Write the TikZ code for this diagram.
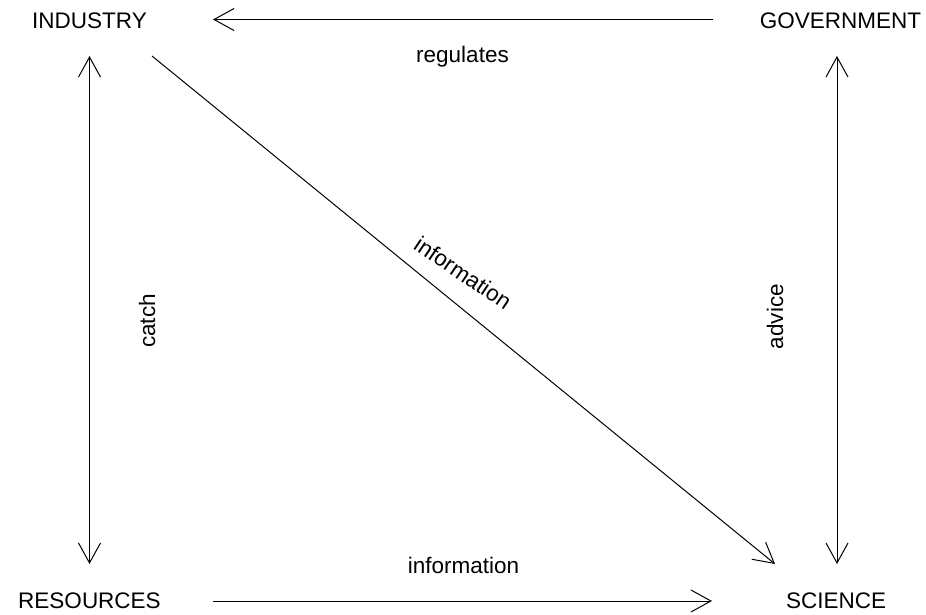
\documentclass[tikz,border=0pt]{standalone}
\usepackage{fontspec}
\setmainfont{Liberation Sans}
\usetikzlibrary{arrows.meta}
\begin{document}
\begin{tikzpicture}[x=1pt,y=-1pt,
  txt/.style={font=\fontsize{22.5}{27}\selectfont, inner sep=0pt, anchor=base},
  conn/.style={line width=1pt, -{Straight Barb[length=20pt,width=22pt]}},
  dconn/.style={line width=1pt, {Straight Barb[length=20pt,width=22pt]}-{Straight Barb[length=20pt,width=22pt]}}]
  \useasboundingbox (0,0) rectangle (926,615);
  % corner entities
  \node[txt] (ind) at (89.5,29) {INDUSTRY};
  \node[txt] (gov) at (840.5,29) {GOVERNMENT};
  \node[txt] (res) at (89.5,608) {RESOURCES};
  \node[txt] (sci) at (836,608) {SCIENCE};
  % connector end points
  \coordinate (govOut) at (713,19.5);
  \coordinate (indIn)  at (213,19.5);
  \coordinate (indBot) at (89.5,56);
  \coordinate (resTop) at (89.5,564);
  \coordinate (govBot) at (837,56);
  \coordinate (sciTop) at (837,564);
  \coordinate (indOut) at (152,56);
  \coordinate (sciIn)  at (775,564);
  \coordinate (resOut) at (213,601);
  \coordinate (sciL)   at (712,601);
  % connectors
  \draw[conn] (govOut) -- (indIn);
  \draw[dconn] (indBot) -- (resTop);
  \draw[dconn] (govBot) -- (sciTop);
  \draw[conn] (indOut) -- (sciIn);
  \draw[conn] (resOut) -- (sciL);
  % labels
  \node[txt] (lreg) at (462.5,63) {regulates};
  \node[txt] (linfb) at (463.5,573) {information};
  \node[txt, rotate=90] (lcatch) at (155,321) {catch};
  \node[txt, rotate=90] (ladv) at (783,316.5) {advice};
  \node[txt, anchor=center, rotate=-34] (linfd) at (463,273) {information};
\end{tikzpicture}
\end{document}
